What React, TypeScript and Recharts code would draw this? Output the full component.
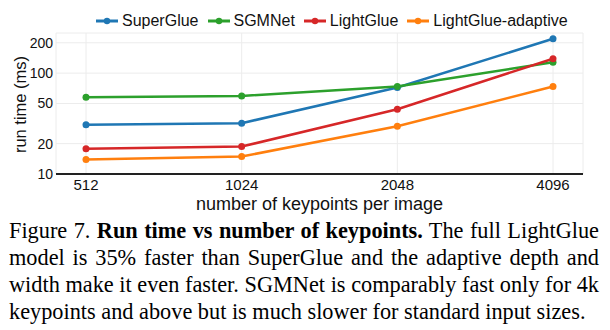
import React from "react";
import { LineChart, Line, XAxis, YAxis, CartesianGrid, Legend, Label } from "recharts";

const keypoints = ["512", "1024", "2048", "4096"];
const superGlue = [30.7, 31.9, 72, 219];
const sgmNet = [57.8, 59.5, 73.6, 128];
const lightGlue = [17.8, 18.7, 43.9, 139];
const lightGlueAdaptive = [13.9, 14.9, 29.8, 73.6];
const yTicks = [10, 20, 50, 100, 200];

const seriesNames = ["SuperGlue", "SGMNet", "LightGlue", "LightGlue-adaptive"];
const seriesColors = ["#1f77b4", "#2ca02c", "#d62728", "#ff7f0e"];

const data = keypoints.map((k, i) => ({
  k,
  SuperGlue: superGlue[i],
  SGMNet: sgmNet[i],
  LightGlue: lightGlue[i],
  "LightGlue-adaptive": lightGlueAdaptive[i],
}));

const captionLines: React.ReactNode[] = [
  <>Figure 7. <b>Run time vs number of keypoints.</b> The full LightGlue</>,
  <>model is 35% faster than SuperGlue and the adaptive depth and</>,
  <>width make it even faster. SGMNet is comparably fast only for 4k</>,
  <>keypoints and above but is much slower for standard input sizes.</>,
];

const FONT = "'Liberation Sans', Arial, sans-serif";

const LegendContent = () => (
  <div style={{ display: "flex", alignItems: "center", fontFamily: FONT, fontSize: 16, color: "#111", whiteSpace: "nowrap" }}>
    {seriesNames.map((n, i) => (
      <div key={n} style={{ display: "flex", alignItems: "center", marginRight: 9 }}>
        <svg width={22} height={12} style={{ marginRight: 4 }}>
          <line x1={0} y1={6} x2={22} y2={6} stroke={seriesColors[i]} strokeWidth={3} />
          <circle cx={11} cy={6} r={3.2} fill={seriesColors[i]} />
        </svg>
        <span>{n}</span>
      </div>
    ))}
  </div>
);

const YLabel = (props: any) => {
  const vb = props.viewBox || { x: 0, y: 0, width: 0, height: 0 };
  const cx = vb.x + 20;
  const cy = vb.y + vb.height / 2 + 1;
  return (
    <text
      x={cx}
      y={cy}
      transform={`rotate(-90, ${cx}, ${cy})`}
      textAnchor="middle"
      dominantBaseline="central"
      fontFamily={FONT}
      fontSize={16.5}
      fill="#111"
    >
      run time (ms)
    </text>
  );
};

export default function App() {
  return (
    <div style={{ position: "absolute", left: 0, top: 0, width: 610, height: 330, background: "#fff" }}>
      <LineChart
        width={610}
        height={215}
        data={data}
        margin={{ top: 33, right: 27, left: 0, bottom: 0 }}
        style={{ fontFamily: FONT }}
      >
        <CartesianGrid stroke="#ececec" strokeWidth={1} />
        <XAxis
          dataKey="k"
          height={41}
          padding={{ left: 30, right: 30 }}
          tickLine={false}
          tickSize={0}
          tickMargin={5}
          axisLine={{ stroke: "#222", strokeWidth: 2 }}
          tick={{ fontSize: 15, fill: "#111", fontFamily: FONT }}
        >
          <Label value="number of keypoints per image" position="insideBottom" offset={5} style={{ fontSize: 18, fill: "#111", fontFamily: FONT }} />
        </XAxis>
        <YAxis
          scale="log"
          domain={[10, 250]}
          ticks={yTicks}
          allowDataOverflow
          width={56}
          tickLine={false}
          axisLine={false}
          tickSize={0}
          tickMargin={3}
          tick={{ fontSize: 14, fill: "#111", fontFamily: FONT }}
        >
          <Label content={<YLabel />} />
        </YAxis>
        <Legend
          verticalAlign="middle"
          layout="horizontal"
          content={<LegendContent />}
          wrapperStyle={{ position: "absolute", top: 12, left: 96, width: "auto" }}
        />
        {seriesNames.map((n, i) => (
          <Line
            key={n}
            type="linear"
            dataKey={n}
            stroke={seriesColors[i]}
            strokeWidth={2.5}
            dot={{ r: 3.5, fill: seriesColors[i], stroke: seriesColors[i], strokeWidth: 0 }}
            isAnimationActive={false}
          />
        ))}
      </LineChart>
      <div
        style={{
          position: "absolute",
          left: 9,
          top: 217,
          width: 590,
          fontFamily: "'Liberation Serif', 'Times New Roman', serif",
          fontSize: 22.3,
          lineHeight: "27px",
          color: "#000",
        }}
      >
        {captionLines.map((l, i) => (
          <div
            key={i}
            style={{
              textAlign: i < captionLines.length - 1 ? "justify" : "left",
              textAlignLast: i < captionLines.length - 1 ? "justify" : "left",
              whiteSpace: "nowrap",
            }}
          >
            {l}
          </div>
        ))}
      </div>
    </div>
  );
}
